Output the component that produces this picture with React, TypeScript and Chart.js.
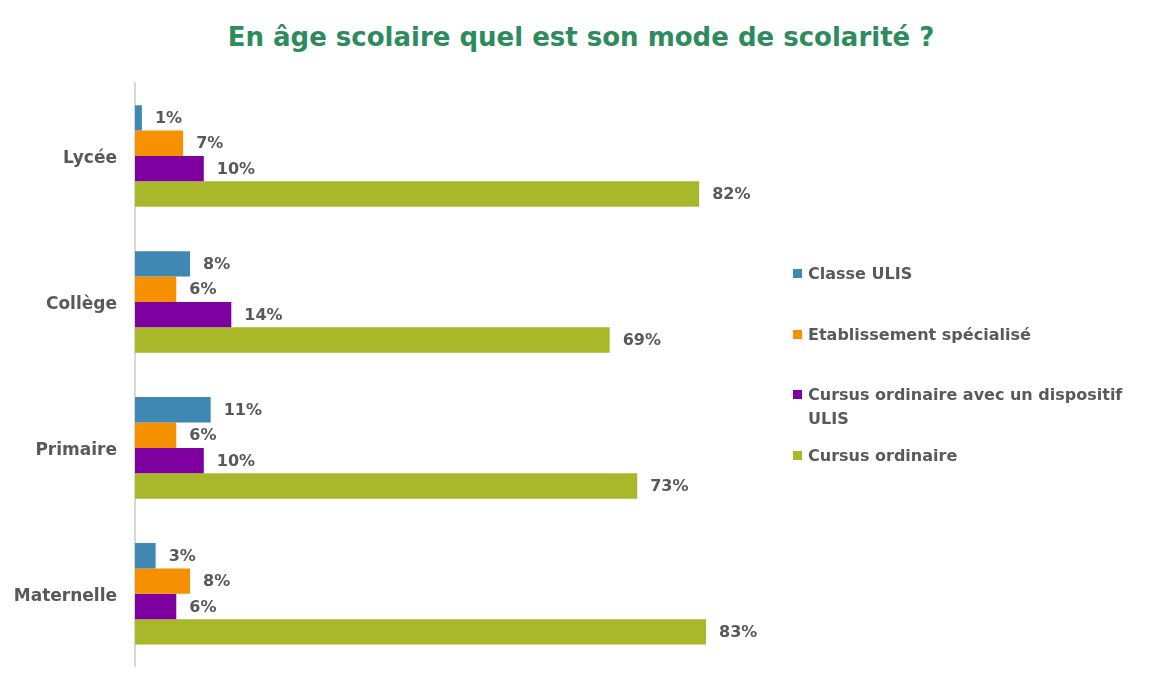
import React, { useEffect, useRef } from "react";
import { Chart, registerables } from "chart.js";

Chart.register(...registerables);

const categories = ["Lycée", "Collège", "Primaire", "Maternelle"];
const seriesNames = [
  "Classe ULIS",
  "Etablissement spécialisé",
  "Cursus ordinaire avec un dispositif ULIS",
  "Cursus ordinaire",
];
const classeUlis = [1, 8, 11, 3];
const etablissementSpecialise = [7, 6, 6, 8];
const cursusAvecUlis = [10, 14, 10, 6];
const cursusOrdinaire = [82, 69, 73, 83];
const seriesColors = ["#3F88B4", "#F59100", "#7F00A0", "#A8B82A"];
const titleText = "En âge scolaire quel est son mode de scolarité ?";

const FONT = '"DejaVu Sans", sans-serif';
const TEXT_COLOR = "#595959";

const valueLabels = {
  id: "valueLabels",
  afterDatasetsDraw(chart: any) {
    const ctx = chart.ctx;
    ctx.save();
    ctx.font = `bold 16px ${FONT}`;
    ctx.fillStyle = TEXT_COLOR;
    ctx.textAlign = "left";
    ctx.textBaseline = "middle";
    chart.data.datasets.forEach((ds: any, i: number) => {
      const meta = chart.getDatasetMeta(i);
      meta.data.forEach((bar: any, j: number) => {
        ctx.fillText(`${ds.data[j]}%`, bar.x + 13, bar.y + 1);
      });
    });
    ctx.restore();
  },
};

export default function App() {
  const canvasRef = useRef<HTMLCanvasElement | null>(null);

  useEffect(() => {
    if (!canvasRef.current) return;
    const seriesData = [classeUlis, etablissementSpecialise, cursusAvecUlis, cursusOrdinaire];
    const chart = new Chart(canvasRef.current, {
      type: "bar",
      data: {
        labels: categories,
        datasets: seriesNames.map((name, i) => ({
          label: name,
          data: seriesData[i],
          backgroundColor: seriesColors[i],
          barPercentage: 1,
          categoryPercentage: 0.696,
        })),
      },
      options: {
        indexAxis: "y",
        responsive: false,
        maintainAspectRatio: false,
        animation: false,
        devicePixelRatio: 1,
        layout: { padding: { left: 0, top: 83, bottom: 26, right: 339 } },
        plugins: {
          legend: { display: false },
          title: { display: false },
          tooltip: { enabled: false },
        },
        scales: {
          x: { display: false, min: 0, max: 100 },
          y: {
            afterFit: (scale: any) => {
              scale.width = 135;
            },
            grid: { display: false, drawTicks: false },
            border: { display: true, color: "#D9D9D9", width: 2 },
            ticks: {
              color: TEXT_COLOR,
              font: { family: FONT, size: 17, weight: "bold" },
              padding: 18,
              labelOffset: 3,
            },
          },
        },
      },
      plugins: [valueLabels],
    } as any);
    return () => chart.destroy();
  }, []);

  const legendTops = [262, 323, 383, 444];

  return (
    <div
      style={{
        position: "fixed",
        left: 0,
        top: 0,
        width: 1162,
        height: 695,
        background: "#fff",
        fontFamily: FONT,
      }}
    >
      <div
        style={{
          position: "absolute",
          left: 0,
          top: 22,
          width: 1162,
          textAlign: "center",
          fontSize: 26,
          lineHeight: "30px",
          fontWeight: "bold",
          color: "#2E8B5E",
        }}
      >
        {titleText}
      </div>
      <canvas ref={canvasRef} width={1162} height={695} style={{ position: "absolute", left: 0, top: 0 }} />
      {seriesNames.map((name, i) => (
        <div
          key={name}
          style={{
            position: "absolute",
            left: 793,
            top: legendTops[i],
            width: 360,
            display: "flex",
            alignItems: "flex-start",
          }}
        >
          <span
            style={{
              display: "inline-block",
              width: 9,
              height: 9,
              marginTop: 7,
              marginRight: 6,
              background: seriesColors[i],
              flex: "none",
            }}
          />
          <span
            style={{
              fontSize: 16,
              lineHeight: "24px",
              fontWeight: "bold",
              color: TEXT_COLOR,
              width: 330,
            }}
          >
            {name}
          </span>
        </div>
      ))}
    </div>
  );
}
